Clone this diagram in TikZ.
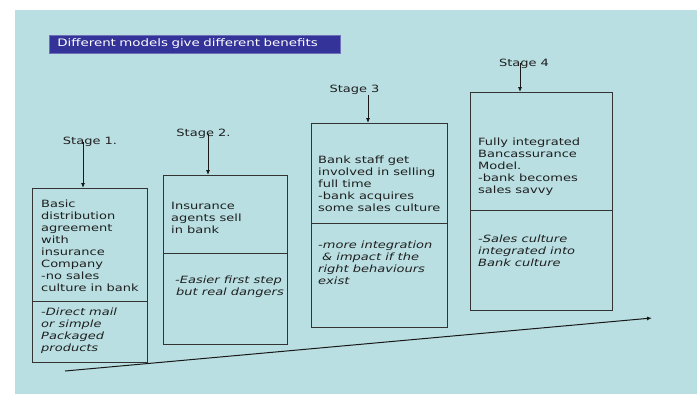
\documentclass[tikz,border=0pt]{standalone}
\usepackage{fontspec}
\setmainfont{DejaVu Sans}[FakeStretch=1.3]
\usetikzlibrary{arrows.meta}
\definecolor{bg}{HTML}{B9DFE2}
\definecolor{titlebg}{HTML}{333399}
\definecolor{edge}{HTML}{333333}
\begin{document}
\begin{tikzpicture}[x=1pt,y=-1pt,
  box/.style={draw=edge, line width=0.9pt, anchor=north west, inner sep=0pt},
  txt/.style={anchor=north west, inner sep=0pt, align=left, text=black!88, font=\fontsize{10}{12}\selectfont},
  itxt/.style={txt, font=\fontsize{10}{12}\selectfont\itshape},
  lbl/.style={anchor=base, inner sep=0pt, text=black!88, font=\fontsize{10}{12}\selectfont},
  arr/.style={-{Latex[length=5pt,width=4pt]}, line width=0.8pt, draw=black!90},
  divider/.style={draw=edge, line width=0.9pt}]
\fill[white] (0,0) rectangle (699,394);
\useasboundingbox (0,0) rectangle (699,394);
\fill[bg] (15,10) rectangle (697,394);

% title
\node[anchor=west, fill=titlebg, draw=titlebg!70!white, line width=0.6pt,
      text=white, inner xsep=8pt, inner ysep=0pt, minimum height=18pt,
      text width=275pt, align=left, font=\fontsize{10.3}{12}\selectfont] (title) at (49,44)
  {Different models give different benefits};

% boxes
\node[box, minimum width=115pt, minimum height=174pt] (b1) at (32,188) {};
\node[box, minimum width=124pt, minimum height=169pt] (b2) at (163,175) {};
\node[box, minimum width=136pt, minimum height=204pt] (b3) at (311,123) {};
\node[box, minimum width=142pt, minimum height=218pt] (b4) at (470,92) {};
\draw[divider] (b1.west |- 0,301) -- (b1.east |- 0,301);
\draw[divider] (b2.west |- 0,253) -- (b2.east |- 0,253);
\draw[divider] (b3.west |- 0,223) -- (b3.east |- 0,223);
\draw[divider] (b4.west |- 0,210) -- (b4.east |- 0,210);

% texts
\node[txt] (t1) at (41,199.5) {Basic\\distribution\\agreement\\with\\insurance\\Company\\-no sales\\culture in bank};
\node[itxt] (i1) at (41,308) {-Direct mail\\or simple\\Packaged\\products};
\node[txt] (t2) at (171,202.5) {Insurance\\agents sell\\in bank};
\node[itxt] (i2) at (175,275.5) {-Easier first step\\\hspace{1pt}but real dangers};
\node[txt] (t3) at (318,155.5) {Bank staff get\\involved in selling\\full time\\-bank acquires\\some sales culture};
\node[itxt] (i3) at (318,240.5) {-more integration\\\hspace{4pt}\& impact if the\\right behaviours\\exist};
\node[txt] (t4) at (478,137.5) {Fully integrated\\Bancassurance\\Model.\\-bank becomes\\sales savvy};
\node[itxt] (i4) at (478,234.5) {-Sales culture\\integrated into\\Bank culture};

% stage labels
\node[lbl] (s1) at (90,144.5) {Stage 1.};
\node[lbl] (s2) at (203.5,136.5) {Stage 2.};
\node[lbl] (s3) at (354.5,92.5) {Stage 3};
\node[lbl] (s4) at (524,66) {Stage 4};

\draw[arr] (s1.center -| 83,0) -- (b1.north -| 83,0);
\draw[arr] (s2.center -| 208,0) -- (b2.north -| 208,0);
\draw[arr] (s3.south -| 368,0) -- (b3.north -| 368,0);
\draw[arr] (s4.center -| 520,0) -- (b4.north -| 520,0);

% progression arrow
\coordinate (p0) at (65,371);
\coordinate (p1) at (652,318);
\draw[arr, line width=1pt] (p0) -- (p1);
\end{tikzpicture}
\end{document}
